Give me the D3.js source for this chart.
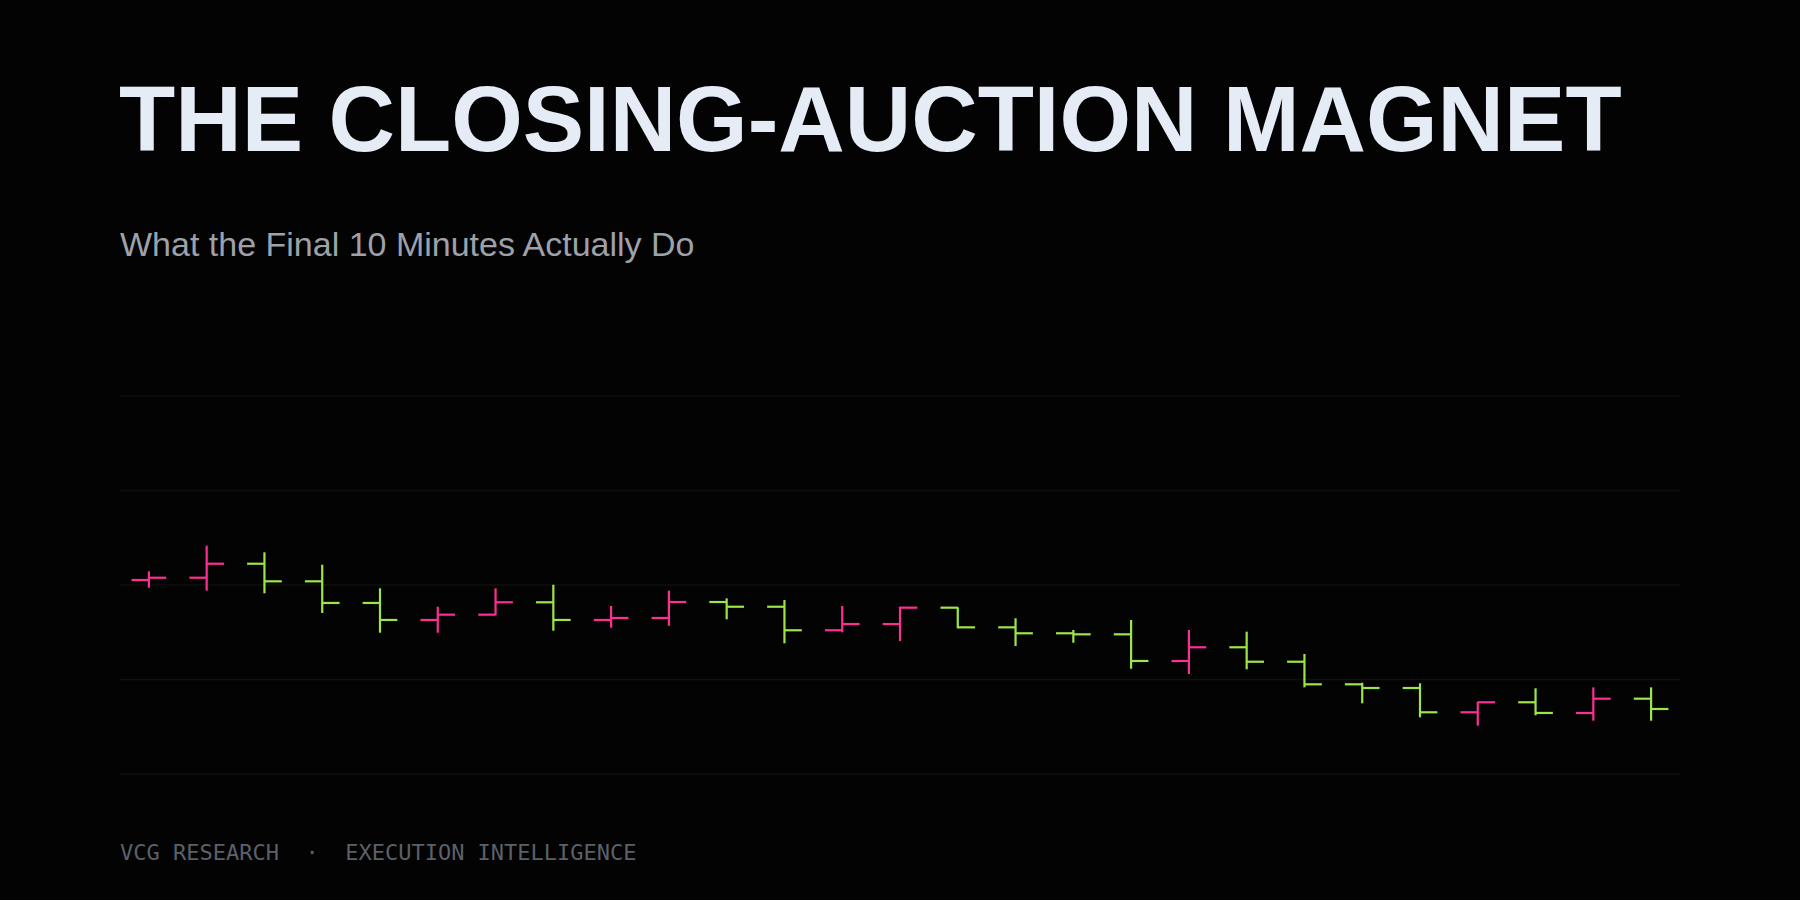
<!DOCTYPE html>
<html>
<head>
<meta charset="utf-8">
<script src="https://cdn.jsdelivr.net/npm/d3@7"></script>
<style>
  html, body { margin: 0; padding: 0; background: #030303; }
  svg { display: block; }
</style>
</head>
<body>
<div id="chart"></div>
<script>
/* OHLC bars, final-auction window (bps vs reference) */
const OPEN  = [0.53, 0.77, 2.25, 0.39, -1.90, -3.70, -3.14, -1.83, -3.70, -3.49, -1.80, -2.30, -4.79, -4.13,
               -2.40, -4.48, -5.11, -5.22, -8.04, -6.59, -8.12, -10.51, -10.90, -13.47, -12.41, -13.54, -12.03];
const HIGH  = [1.45, 4.16, 3.46, 2.15, -0.35, -2.30, -0.35, 0.03, -2.22, -0.60, -1.41, -1.59, -2.22, -2.30,
               -2.35, -3.52, -4.76, -3.70, -4.76, -4.94, -7.30, -10.34, -10.40, -12.35, -10.93, -10.83, -10.83];
const LOW   = [-0.29, -0.60, -0.88, -2.96, -5.05, -5.05, -3.21, -4.84, -4.52, -4.31, -3.63, -6.17, -5.01, -5.93,
               -4.58, -6.46, -6.11, -8.86, -9.42, -8.92, -10.83, -12.52, -14.00, -14.89, -13.79, -14.36, -14.36];
const CLOSE = [0.77, 2.25, 0.39, -1.90, -3.70, -3.14, -1.83, -3.70, -3.49, -1.80, -2.30, -4.79, -4.13, -2.40,
               -4.48, -5.11, -5.22, -8.04, -6.59, -8.12, -10.51, -10.90, -13.47, -12.41, -13.54, -12.03, -13.12];
const Y_DOMAIN = [-20, 20];

const UP_COLOR = "#ff2e93";
const DOWN_COLOR = "#9ee548";

const W = 1800, H = 900;
const margin = { top: 396, right: 120, bottom: 126, left: 120 };
const w = W - margin.left - margin.right;
const h = H - margin.top - margin.bottom;

const data = OPEN.map((o, i) => ({ i, open: o, high: HIGH[i], low: LOW[i], close: CLOSE[i] }));

const svg = d3.select("#chart").append("svg")
  .attr("width", W).attr("height", H)
  .attr("viewBox", `0 0 ${W} ${H}`);

svg.append("rect").attr("width", W).attr("height", H).attr("fill", "#030303");

/* Title + subtitle */
svg.append("text").attr("x", 119).attr("y", 151)
  .style("font-family", "'Liberation Sans', Arial, sans-serif")
  .style("font-size", "92px").style("font-weight", "bold").style("fill", "#e6ecf6")
  .text("THE CLOSING-AUCTION MAGNET");

svg.append("text").attr("x", 120).attr("y", 256)
  .style("font-family", "'Liberation Sans', Arial, sans-serif")
  .style("font-size", "34px").style("fill", "#9da1a9")
  .text("What the Final 10 Minutes Actually Do");

const g = svg.append("g").attr("transform", `translate(${margin.left},${margin.top})`);

const x = d3.scaleBand().domain(data.map(d => d.i)).range([0, w]).padding(0);
const y = d3.scaleLinear().domain(Y_DOMAIN).range([h, 0]);

/* Grid */
g.append("g").selectAll("line").data(y.ticks(5)).enter().append("line")
  .attr("x1", 0).attr("x2", w)
  .attr("y1", d => y(d)).attr("y2", d => y(d))
  .attr("stroke", "#101010").attr("stroke-width", 1.5);

/* OHLC bars */
const tick = x.bandwidth() * 0.3;
const bar = g.selectAll(".ohlc").data(data).enter().append("g").attr("class", "ohlc")
  .attr("transform", d => `translate(${x(d.i) + x.bandwidth() / 2},0)`)
  .attr("stroke", d => d.close >= d.open ? UP_COLOR : DOWN_COLOR)
  .attr("stroke-width", 2.2);

bar.append("line")
  .attr("x1", 0).attr("x2", 0)
  .attr("y1", d => y(d.high)).attr("y2", d => y(d.low));
bar.append("line")
  .attr("x1", -tick).attr("x2", 0)
  .attr("y1", d => y(d.open)).attr("y2", d => y(d.open));
bar.append("line")
  .attr("x1", 0).attr("x2", tick)
  .attr("y1", d => y(d.close)).attr("y2", d => y(d.close));

/* Footer */
svg.append("text").attr("x", 120).attr("y", 860)
  .style("font-family", "'DejaVu Sans Mono', monospace")
  .style("font-size", "22px").style("fill", "#5b6069")
  .attr("xml:space", "preserve")
  .text("VCG RESEARCH  ·  EXECUTION INTELLIGENCE");
</script>
</body>
</html>
